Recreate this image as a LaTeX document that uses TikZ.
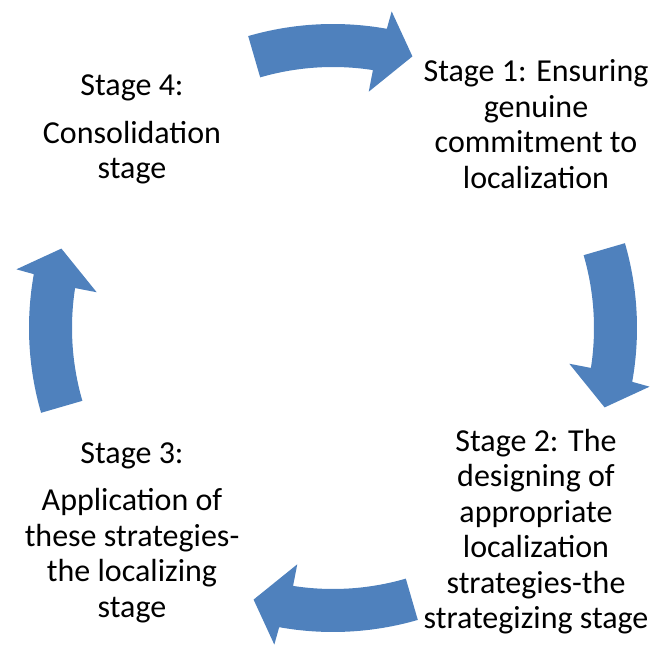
\documentclass[tikz,border=0pt]{standalone}
\usepackage{fontspec}
\setmainfont{Carlito}
\definecolor{cycleblue}{RGB}{79,129,189}
\tikzset{
  stagetext/.style={align=center, font=\fontsize{32}{35.5}\selectfont,
    inner sep=0pt, text=black},
  % one curved block arrow of the cycle, centred on the 0 degree axis,
  % running clockwise from +16 to -16 degrees
  cyclearrow/.pic={
    \fill[cycleblue]
      (16.2:304pt) arc[start angle=16.2, end angle=-10.2, radius=304pt]
      -- (-10.5:322pt) -- (-16.3:283pt) -- (-8.6:239pt) -- (-8.8:261pt)
      arc[start angle=-8.8, end angle=16.2, radius=261pt] -- cycle;
  }
}
\begin{document}
\begin{tikzpicture}[x=1pt,y=1pt]
\useasboundingbox (0,0) rectangle (651,651);
\coordinate (C) at (333,323);

% the four arrows of the cycle
\pic[rotate=90]  at (C) {cyclearrow};
\pic[rotate=0]   at (C) {cyclearrow};
\pic[rotate=-90] at (C) {cyclearrow};
\pic[rotate=180] at (C) {cyclearrow};

% stage labels
\node[stagetext] (s1) at (536,523)
  {\strut Stage 1: Ensuring\\genuine\\commitment to\\localization\strut};
\node[stagetext] (s2) at (536,118)
  {\strut Stage 2: The\\designing of\\appropriate\\localization\\strategies-the\\strategizing stage\strut};
\node[stagetext] (s3) at (132,118)
  {\strut Stage 3:\\[12pt]Application of\\these strategies-\\the localizing\\stage\strut};
\node[stagetext] (s4) at (132,521)
  {\strut Stage 4:\\[12pt]Consolidation\\stage\strut};
\end{tikzpicture}
\end{document}
